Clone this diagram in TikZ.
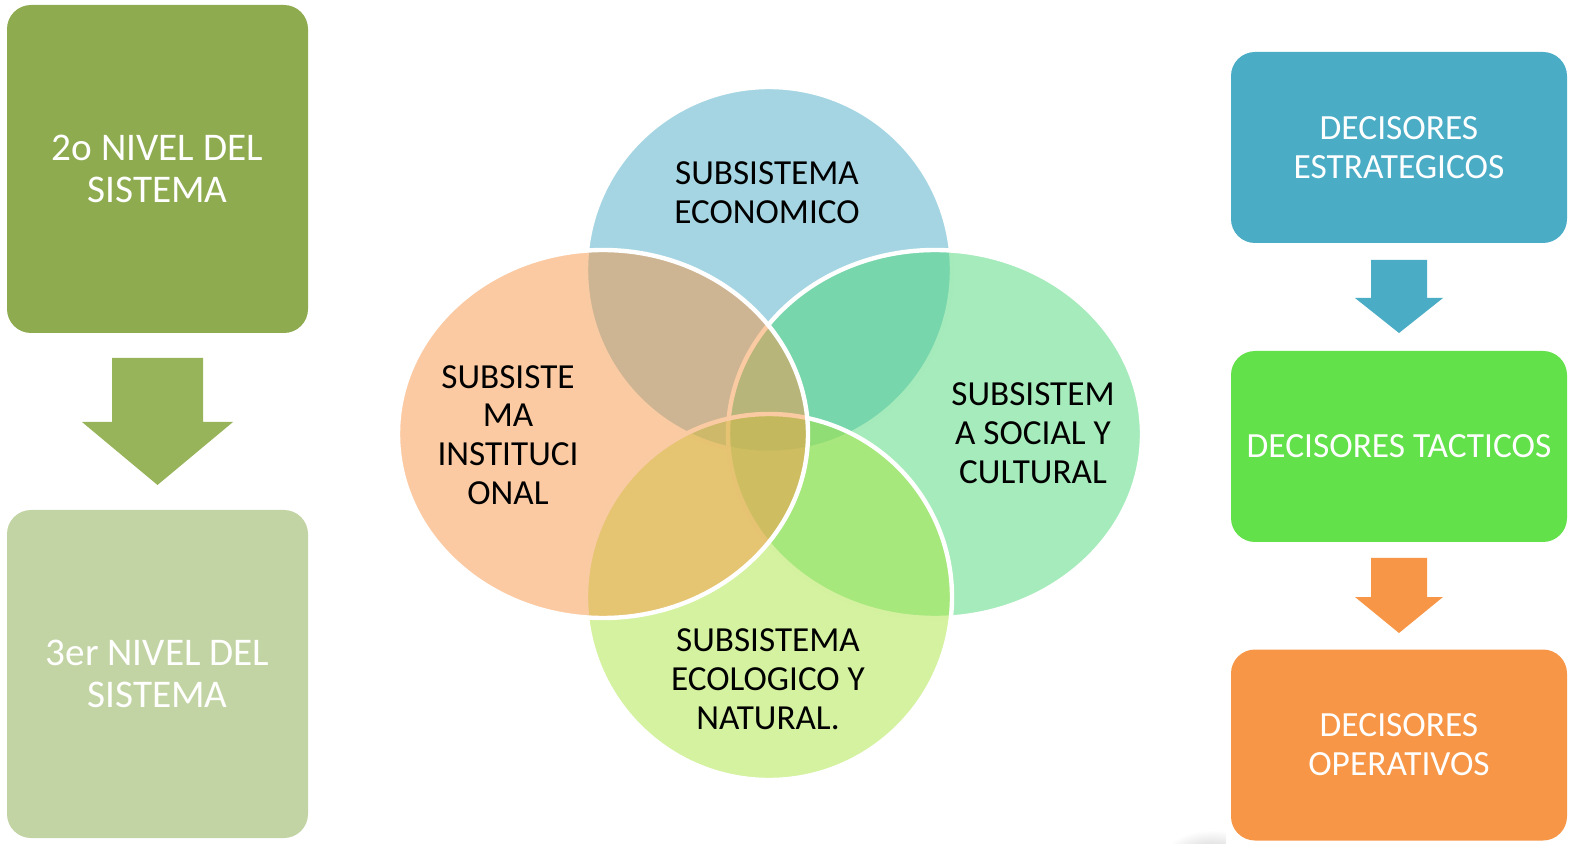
\documentclass[tikz,border=0pt]{standalone}
\usepackage{fontspec}
\setmainfont{Carlito}
\usetikzlibrary{shapes.geometric}
\definecolor{lvA}{HTML}{8EAB50}
\definecolor{lvArrow}{HTML}{97B45B}
\definecolor{lvB}{HTML}{C3D4A4}
\definecolor{vBlue}{HTML}{4BACC6}
\definecolor{vGreen}{HTML}{4DD777}
\definecolor{vLime}{HTML}{A9E541}
\definecolor{vOrange}{HTML}{F79646}
\definecolor{dBlue}{HTML}{4BACC6}
\definecolor{dGreen}{HTML}{63E14A}
\definecolor{dOrange}{HTML}{F79646}
\tikzset{
  levelbox/.style={rectangle, rounded corners=12pt, inner sep=0pt, minimum width=150.5pt, minimum height=164pt, text=white, align=center, font=\fontsize{19.6}{21}\selectfont},
  decbox/.style={rectangle, rounded corners=12pt, inner sep=0pt, minimum width=168pt, minimum height=95.5pt, text=white, align=center, font=\fontsize{17.7}{19.5}\selectfont},
  venn/.style={ellipse, inner sep=0pt, fill opacity=0.5, draw=white, line width=2.2pt},
  venntext/.style={align=center, text=black, font=\fontsize{17.6}{19.4}\selectfont},
}
\begin{document}
\begin{tikzpicture}[x=0.5pt,y=-0.5pt]
\useasboundingbox (0,0) rectangle (1575,844);
% faint shadow near bottom right
\begin{scope}
\clip (1140,800) rectangle (1226,844);
\shade[inner color=gray!40, outer color=white] (1212,856) ellipse (48 and 26);
\end{scope}
% left column
\node[levelbox, fill=lvA] (n2) at (157.5,169) {2o NIVEL DEL\\SISTEMA};
\node[levelbox, fill=lvB] (n3) at (157.5,674) {3er NIVEL DEL\\SISTEMA};
\fill[lvArrow] (112,358) -- (203,358) -- (203,422) -- (233,422) -- (157.5,485) -- (82,422) -- (112,422) -- cycle;
% venn
\node[venn, fill=vBlue, minimum width=183pt, minimum height=183pt] (ve) at (769,270) {};
\node[venn, fill=vGreen, minimum width=207pt, minimum height=184pt] (vs) at (935,434) {};
\node[venn, fill=vLime, minimum width=183pt, minimum height=183pt] (vn) at (769,597) {};
\node[venn, fill=vOrange, minimum width=205pt, minimum height=184pt] (vi) at (603,434) {};
\node[venntext] (te) at (767,193) {SUBSISTEMA\\ECONOMICO};
\node[venntext] (ti) at (508,435) {SUBSISTE\\MA\\INSTITUCI\\ONAL};
\node[venntext] (ts) at (1033,433) {SUBSISTEM\\A SOCIAL Y\\CULTURAL};
\node[venntext] (tn) at (768,679) {SUBSISTEMA\\ECOLOGICO Y\\NATURAL.};
% right column
\node[decbox, fill=dBlue] (d1) at (1399,147.5) {DECISORES\\ESTRATEGICOS};
\node[decbox, fill=dGreen] (d2) at (1399,446.5) {DECISORES TACTICOS};
\node[decbox, fill=dOrange] (d3) at (1399,745) {DECISORES\\OPERATIVOS};
\fill[dBlue] (1371,260) -- (1427,260) -- (1427,298) -- (1443,298) -- (1399,333) -- (1355,298) -- (1371,298) -- cycle;
\fill[dOrange] (1371,558) -- (1427,558) -- (1427,597) -- (1443,597) -- (1399,633) -- (1355,597) -- (1371,597) -- cycle;
\end{tikzpicture}
\end{document}
